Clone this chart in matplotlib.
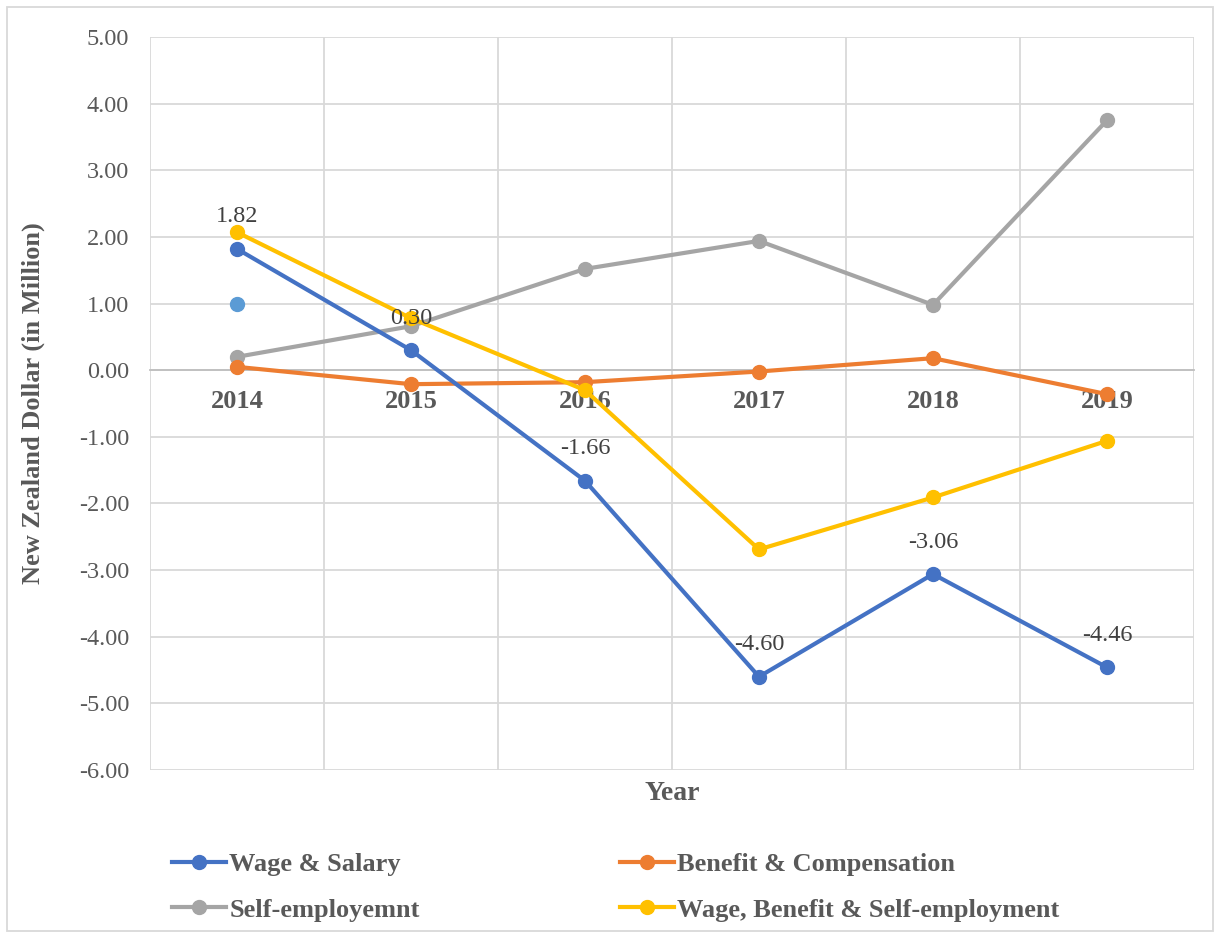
import matplotlib
matplotlib.use("Agg")
import matplotlib.pyplot as plt
from matplotlib.patches import Rectangle
from matplotlib.ticker import FixedLocator

years = ["2014", "2015", "2016", "2017", "2018", "2019"]
wage_salary = [1.82, 0.30, -1.66, -4.60, -3.06, -4.46]
benefit_comp = [0.05, -0.21, -0.18, -0.02, 0.18, -0.36]
self_employ = [0.20, 0.66, 1.52, 1.94, 0.98, 3.75]
combined = [2.07, 0.78, -0.30, -2.69, -1.91, -1.06]
stray_value = [1.00]
yticks = [5, 4, 3, 2, 1, 0, -1, -2, -3, -4, -5, -6]

plt.rcParams['font.family'] = ['Liberation Serif', 'DejaVu Serif']

fig = plt.figure(figsize=(12.2, 9.38), dpi=100)
ax = fig.add_axes([150/1220, 1-770/938, (1194-150)/1220, (770-37)/938])

grid_c = '#D9D9D9'
text_c = '#595959'
fs_norm = 17.5
fs_bold = 19
x = list(range(len(years)))

lw = 3.0
ms = 10
ax.plot(x, wage_salary, color='#4472C4', lw=lw, marker='o', ms=ms, label='Wage & Salary', zorder=5)
ax.plot(x, benefit_comp, color='#ED7D31', lw=lw, marker='o', ms=ms, label='Benefit & Compensation', zorder=4)
ax.plot(x, self_employ, color='#A5A5A5', lw=lw, marker='o', ms=ms, label='Self-employemnt', zorder=3)
ax.plot(x, combined, color='#FFC000', lw=lw, marker='o', ms=ms, label='Wage, Benefit & Self-employment', zorder=4)
ax.plot([0], stray_value, color='#5B9BD5', lw=0, marker='o', ms=ms, zorder=3)

for xi, v in zip(x, wage_salary):
    ax.annotate(f"{v:.2f}", (xi, v), xytext=(0, 23), textcoords='offset points',
                ha='center', va='center', fontsize=fs_norm, color='#404040', zorder=6)

ax.set_xlim(-0.5, len(years) - 0.5)
ax.set_ylim(-6, 5)
for s in ['top', 'right', 'left']:
    ax.spines[s].set_visible(False)
ax.spines['bottom'].set_position(('data', 0))
ax.spines['bottom'].set_color('#BFBFBF')
ax.spines['bottom'].set_linewidth(1.3)
ax.spines['bottom'].set_zorder(1)

ax.set_yticks(yticks)
ax.set_yticklabels([f"{t:.2f}" for t in yticks])
ax.set_xticks(x)
ax.set_xticklabels(years)
ax.xaxis.set_minor_locator(FixedLocator([i - 0.5 for i in range(len(years) + 1)]))
ax.tick_params(axis='x', which='both', length=0, pad=14, labelsize=fs_bold, labelcolor=text_c)
ax.tick_params(axis='y', length=0, pad=15, labelsize=fs_norm, labelcolor=text_c)
for t in ax.get_xticklabels():
    t.set_fontweight('bold')
ax.grid(True, axis='y', which='major', color=grid_c, lw=1.3)
ax.grid(True, axis='x', which='minor', color=grid_c, lw=1.3)
ax.grid(False, axis='x', which='major')
ax.set_axisbelow(True)

ax.set_ylabel("New Zealand Dollar (in Million)", fontsize=fs_bold, fontweight='bold', color=text_c)
ax.yaxis.set_label_coords((45-150)/1044, 0.5)
fig.text(672/1220, 1-793/938, "Year", fontsize=fs_bold + 1, fontweight='bold', color=text_c, ha='center', va='center')

handles, labels = ax.get_legend_handles_labels()
order = [0, 2, 1, 3]
leg = fig.legend([handles[i] for i in order], [labels[i] for i in order], ncol=2,
                 loc='upper left', bbox_to_anchor=(172/1220, 1-853/938), frameon=False,
                 prop={'size': fs_bold, 'weight': 'bold'}, handlelength=2.05, handletextpad=0.12,
                 columnspacing=7.6, labelspacing=0.82, borderpad=0, borderaxespad=0)
for t in leg.get_texts():
    t.set_color(text_c)

fig.patches.append(Rectangle((7/1220, 1-931/938), (1213-7)/1220, (931-7)/938,
                             transform=fig.transFigure, fill=False, edgecolor='#D9D9D9', lw=1.3))

fig.savefig("out.png", dpi=100)
